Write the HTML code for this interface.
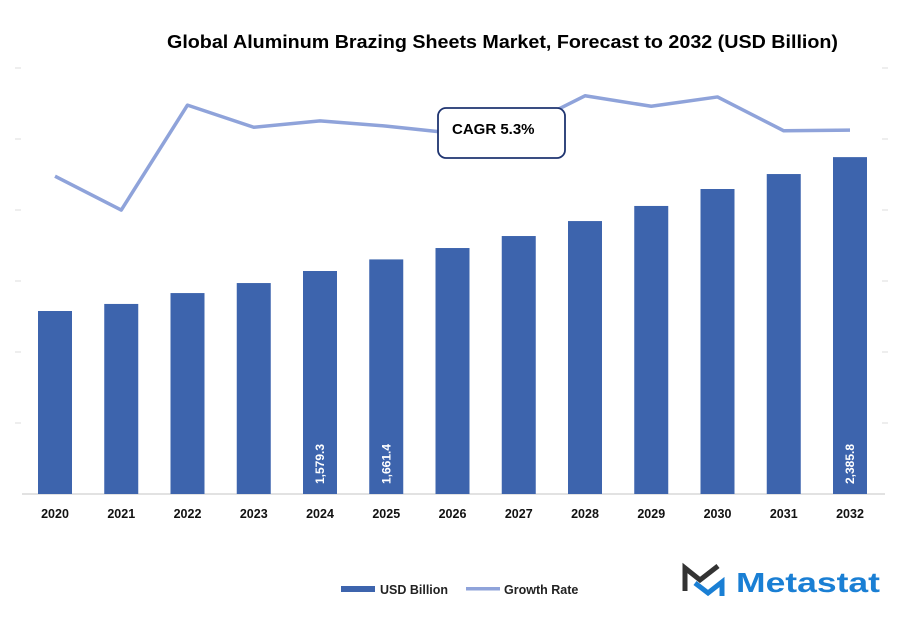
<!DOCTYPE html>
<html><head><meta charset="utf-8"><style>
body{margin:0;background:#fff;width:901px;height:622px;overflow:hidden;font-family:"Liberation Sans",sans-serif}
</style></head><body>
<svg id="chart" width="901" height="622" viewBox="0 0 901 622" xmlns="http://www.w3.org/2000/svg">
<text x="167" y="48" textLength="671" lengthAdjust="spacingAndGlyphs" font-family="Liberation Sans, sans-serif" font-weight="bold" font-size="18.5" fill="#000">Global Aluminum Brazing Sheets Market, Forecast to 2032 (USD Billion)</text>
<g id="grid"></g>
<g id="bars"></g>
<g id="line"></g>
<g id="xlabels"></g>
<g>
<rect x="438" y="108" width="127" height="50" rx="8" fill="#fff" stroke="#1f3470" stroke-width="1.8"/>
<text x="452" y="134" font-weight="bold" font-size="15" fill="#000">CAGR 5.3%</text>
</g>
<g>
<rect x="341" y="586" width="34" height="6" fill="#3d64ad"/>
<text x="380" y="594" font-size="12.5" font-weight="bold" fill="#222">USD Billion</text>
<rect x="466" y="587" width="34" height="3.5" fill="#8fa3da"/>
<text x="504" y="594" font-size="12.5" font-weight="bold" fill="#222">Growth Rate</text>
</g>
<g>
<polyline points="685,591 685,568 700,580 718,566" fill="none" stroke="#333" stroke-width="5"/>
<polyline points="695,583 708,593 722,582 722,596" fill="none" stroke="#1a7fd4" stroke-width="5"/>
<text x="736" y="592" textLength="144" lengthAdjust="spacingAndGlyphs" font-size="28" font-weight="bold" fill="#1a7fd4">Metastat</text>
</g>
</svg>
<script>
const years=["2020","2021","2022","2023","2024","2025","2026","2027","2028","2029","2030","2031","2032"];
const usdValues=[1296,1346,1423,1494,1579.3,1661.4,1742,1827,1933,2040,2160,2266,2385.8];
const growthRates=[4.49,3.91,5.71,5.33,5.44,5.35,5.23,5.30,5.87,5.69,5.85,5.27,5.28];
const printedLabels={4:"1,579.3",5:"1,661.4",12:"2,385.8"};
const NS="http://www.w3.org/2000/svg";
const baseY=494, xStart=55, step=66.25, barW=34;
const xPos=i=>xStart+i*step;
const yBar=v=>baseY-v*0.1412;
const yLine=g=>438-58.3*g;
function mk(t,a,p){const e=document.createElementNS(NS,t);for(const k in a)e.setAttribute(k,a[k]);p.appendChild(e);return e;}
const grid=document.getElementById('grid');
for(let k=1;k<7;k++){const y=baseY-k*71;
 const l=mk('line',{x1:15,x2:21,y1:y,y2:y,stroke:'#ddd','stroke-width':1},grid);
 
 
 const r=mk('line',{x1:882,x2:888,y1:y,y2:y,stroke:'#ddd','stroke-width':1},grid);
 
 }
const base=mk('line',{x1:22,x2:885,y1:baseY,y2:baseY,stroke:'#d0d0d0','stroke-width':1.2},grid);


const bars=document.getElementById('bars');
const xl=document.getElementById('xlabels');
usdValues.forEach((v,i)=>{
 const b=mk('rect',{x:xPos(i)-barW/2,y:yBar(v),width:barW,height:baseY-yBar(v),fill:'#3d64ad'},bars);
 
 
 const t=mk('text',{x:xPos(i),y:518,'text-anchor':'middle','font-size':12.5,'font-weight':'bold',fill:'#111'},xl);
 t.textContent=years[i];
 
 
 if(printedLabels[i]){
  const vl=mk('text',{x:0,y:0,transform:`translate(${xPos(i)+4},${baseY-10}) rotate(-90)`,'font-size':12,'font-weight':'bold',fill:'#fff'},bars);
  vl.textContent=printedLabels[i];
  
  
 }
});
const pl=mk('polyline',{points:growthRates.map((g,i)=>xPos(i)+','+yLine(g)).join(' '),fill:'none',stroke:'#8fa3da','stroke-width':3.5,'stroke-linejoin':'round'},document.getElementById('line'));


</script>
</body></html>
